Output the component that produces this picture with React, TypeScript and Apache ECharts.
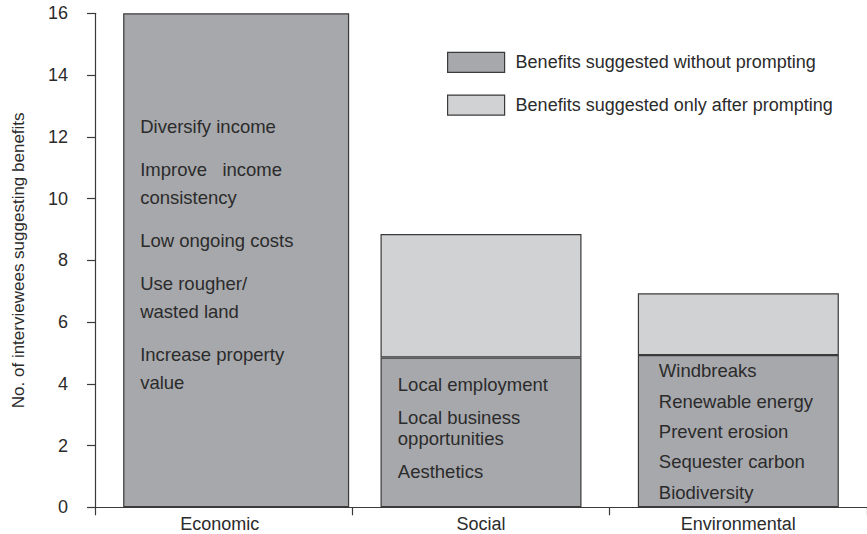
import React, { useEffect, useRef } from "react";
import * as echarts from "echarts";

const categories = ["Economic", "Social", "Environmental"];
const economicWithout: (number | null)[] = [16, null, null];
const withoutPrompting: (number | null)[] = [null, 4.85, 4.93];
const afterPrompting: (number | null)[] = [null, 4.0, 2.0];
const yTicks = [0, 2, 4, 6, 8, 10, 12, 14, 16];

const economicBenefits = [
  ["Diversify income"],
  ["Improve   income", "consistency"],
  ["Low ongoing costs"],
  ["Use rougher/", "wasted land"],
  ["Increase property", "value"],
];
const socialBenefits = [
  ["Local employment"],
  ["Local business", "opportunities"],
  ["Aesthetics"],
];
const environmentalBenefits = [
  ["Windbreaks"],
  ["Renewable energy"],
  ["Prevent erosion"],
  ["Sequester carbon"],
  ["Biodiversity"],
];

const SERIES_WITHOUT = "Benefits suggested without prompting";
const SERIES_AFTER = "Benefits suggested only after prompting";

const DARK = "#a7a8ab";
const LIGHT = "#d1d2d4";
const EDGE = "#3a3a3a";
const TEXT = "#2b2b2b";
const FONT = "'Liberation Sans', Arial, Helvetica, sans-serif";

function richBlock(items: string[][], withSpacer: boolean) {
  return items
    .map((lines) => lines.map((l) => `{t|${l}}`).join("\n"))
    .join(withSpacer ? "\n{s| }\n" : "\n");
}

function innerLabel(items: string[][], pos: [number, number], lh: number, spacer: number) {
  return {
    show: true,
    position: pos,
    formatter: richBlock(items, spacer > 0),
    rich: {
      t: { fontSize: 18.5, lineHeight: lh, color: TEXT, fontFamily: FONT },
      s: { fontSize: 2, lineHeight: spacer, color: TEXT },
    },
  };
}

export default function App() {
  const ref = useRef<HTMLDivElement>(null);

  useEffect(() => {
    if (!ref.current) return;
    const chart = echarts.init(ref.current, undefined, { renderer: "svg" });
    const itemStyleDark = { color: DARK, borderColor: EDGE, borderWidth: 1.2 };
    const itemStyleLight = { color: LIGHT, borderColor: EDGE, borderWidth: 1.2 };

    chart.setOption({
      animation: false,
      backgroundColor: "#ffffff",
      textStyle: { fontFamily: FONT, color: TEXT },
      grid: { left: 95, right: -4, top: 13.3, bottom: 26.7, containLabel: false },
      legend: {
        orient: "vertical",
        left: 442,
        top: 46.7,
        itemWidth: 57,
        itemHeight: 20,
        itemGap: 21.6,
        icon: "rect",
        selectedMode: false,
        data: [SERIES_WITHOUT, SERIES_AFTER],
        itemStyle: { borderColor: EDGE, borderWidth: 1.2 },
        textStyle: { fontSize: 18, color: TEXT, fontFamily: FONT, padding: [0, 0, 0, 6] },
      },
      xAxis: {
        type: "category",
        data: categories.map((c, i) =>
          i === 0 ? { value: c, textStyle: { padding: [0, 8, 0, 0] } } : c
        ),
        axisLine: { lineStyle: { color: EDGE, width: 1.2 } },
        axisTick: { show: true, length: 8, lineStyle: { color: EDGE, width: 1.2 } },
        axisLabel: { fontSize: 18, color: TEXT, margin: 8, fontFamily: FONT },
        splitLine: { show: false },
      },
      yAxis: {
        type: "value",
        min: yTicks[0],
        max: yTicks[yTicks.length - 1],
        interval: 2,
        name: "No. of interviewees suggesting benefits",
        nameLocation: "middle",
        nameGap: 68,
        nameTextStyle: { fontSize: 17, color: TEXT, fontFamily: FONT },
        axisLine: { show: true, lineStyle: { color: EDGE, width: 1.2 } },
        axisTick: { show: true, length: 8, lineStyle: { color: EDGE, width: 1.2 } },
        axisLabel: { fontSize: 18, color: TEXT, margin: 27, fontFamily: FONT },
        splitLine: { show: false },
      },
      series: [
        {
          name: SERIES_WITHOUT,
          type: "bar",
          stack: "econ",
          barWidth: 226,
          barGap: "-100%",
          itemStyle: itemStyleDark,
          data: economicWithout.map((v, i) =>
            i === 0
              ? { value: v, label: innerLabel(economicBenefits, [17, 99.4], 28, 15) }
              : v
          ),
        },
        {
          name: SERIES_WITHOUT,
          type: "bar",
          stack: "total",
          barWidth: 201,
          barGap: "-100%",
          itemStyle: itemStyleDark,
          data: withoutPrompting.map((v, i) =>
            i === 1
              ? { value: v, label: innerLabel(socialBenefits, [17.3, 16.9], 21, 12) }
              : i === 2
              ? { value: v, label: innerLabel(environmentalBenefits, [21, 0.7], 30.3, 0) }
              : v
          ),
        },
        {
          name: SERIES_AFTER,
          type: "bar",
          stack: "total",
          barWidth: 201,
          barGap: "-100%",
          itemStyle: itemStyleLight,
          data: afterPrompting,
        },
      ],
    });
    return () => chart.dispose();
  }, []);

  return (
    <div
      ref={ref}
      style={{ position: "fixed", left: 0, top: 0, width: 867, height: 534, background: "#fff" }}
    />
  );
}
